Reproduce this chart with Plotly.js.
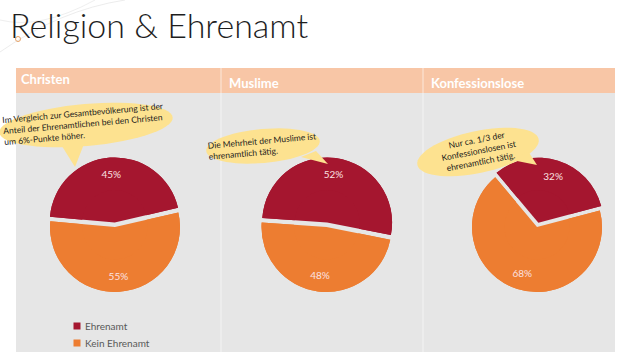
<!DOCTYPE html>
<html>
<head>
<meta charset="utf-8">
<script src="https://cdn.plot.ly/plotly-3.0.1.min.js"></script>
<style>html,body{margin:0;padding:0;background:#fff;}#chart{width:630px;height:364px;}</style>
</head>
<body>
<div id="chart"></div>
<script>
// ---- data ----
const labels = ['Ehrenamt', 'Kein Ehrenamt'];
const groups = ['Christen', 'Muslime', 'Konfessionslose'];
const christen = [45, 55];
const muslime = [52, 48];
const konfessionslose = [32, 68];
const notes = [
  'Im Vergleich zur Gesamtbevölkerung ist der<br>Anteil der Ehrenamtlichen bei den Christen<br>um 6%-Punkte höher.',
  'Die Mehrheit der Muslime ist<br>ehrenamtlich tätig.',
  'Nur ca. 1/3 der<br>Konfessionslosen ist<br>ehrenamtlich tätig.'
];
const title = 'Religion & Ehrenamt';

// ---- helpers ----
const W = 630, H = 364;
const px = x => x / W, py = y => 1 - y / H;
const colors = ['#A5162F', '#ED7D31'];
const FONT = 'Lato, "Open Sans", sans-serif';

function ellipsePath(cx, cy, rx, ry, rot) {
  const a = rot * Math.PI / 180, n = 60;
  let d = '';
  for (let i = 0; i <= n; i++) {
    const t = 2 * Math.PI * i / n;
    const x = cx + rx * Math.cos(t) * Math.cos(a) - ry * Math.sin(t) * Math.sin(a);
    const y = cy + rx * Math.cos(t) * Math.sin(a) + ry * Math.sin(t) * Math.cos(a);
    d += (i === 0 ? 'M ' : ' L ') + px(x).toFixed(5) + ',' + py(y).toFixed(5);
  }
  return d + ' Z';
}
function triPath(p) {
  return 'M ' + p.map(q => px(q[0]).toFixed(5) + ',' + py(q[1]).toFixed(5)).join(' L ') + ' Z';
}

const pieDefs = [
  {vals: christen, cx: 115, rot: -85},
  {vals: muslime, cx: 326.5, rot: -86},
  {vals: konfessionslose, cx: 537, rot: -40}
];
const pull = 0.07, R = 65, cy = 227;
const half = R * (1 + pull);

const traces = [];
pieDefs.forEach((p, i) => {
  const base = {
    type: 'pie',
    labels: labels,
    values: p.vals,
    sort: false,
    direction: 'clockwise',
    rotation: p.rot,
    pull: [pull, 0],
    marker: {colors: colors, line: {width: 0}},
    showlegend: false,
    hoverinfo: 'label+percent',
    domain: {x: [px(p.cx - half), px(p.cx + half)], y: [py(cy + half), py(cy - half)]}
  };
  // full pie (slices)
  traces.push(Object.assign({}, base, {textinfo: 'none'}));
  // ring on top carrying the percentage labels further out
  traces.push(Object.assign({}, base, {
    hole: 0.5,
    texttemplate: '%{value}%',
    textposition: 'inside',
    insidetextorientation: 'horizontal',
    insidetextfont: {family: FONT, size: 10, color: '#FBE2E2'}
  }));
});

const shapes = [
  {type: 'rect', xref: 'paper', yref: 'paper', x0: px(16), x1: px(615), y0: py(352), y1: py(93), fillcolor: '#E6E6E6', line: {width: 0}, layer: 'below'},
  {type: 'rect', xref: 'paper', yref: 'paper', x0: px(16), x1: px(615), y0: py(93), y1: py(68), fillcolor: '#F8C6A6', line: {width: 0}, layer: 'below'},
  {type: 'line', xref: 'paper', yref: 'paper', x0: px(221), x1: px(221), y0: py(352), y1: py(68), line: {color: 'rgba(255,255,255,0.6)', width: 1}, layer: 'below'},
  {type: 'line', xref: 'paper', yref: 'paper', x0: px(423), x1: px(423), y0: py(352), y1: py(68), line: {color: 'rgba(255,255,255,0.6)', width: 1}, layer: 'below'},
  {type: 'circle', xref: 'paper', yref: 'paper', x0: px(15.5), x1: px(20.5), y0: py(41.5), y1: py(36.5), line: {color: '#E8A060', width: 1}, fillcolor: 'rgba(0,0,0,0)', layer: 'below'},
  {type: 'path', xref: 'paper', yref: 'paper', path: 'M ' + px(0) + ',' + py(52) + ' Q ' + px(60) + ',' + py(10) + ' ' + px(125) + ',' + py(0), line: {color: 'rgba(200,200,200,0.35)', width: 1}, layer: 'below'},
  {type: 'path', xref: 'paper', yref: 'paper', path: 'M ' + px(0) + ',' + py(20) + ' Q ' + px(40) + ',' + py(30) + ' ' + px(95) + ',' + py(0), line: {color: 'rgba(200,200,200,0.3)', width: 1}, layer: 'below'}
];

const bubbleColor = '#FDE290';
const bubbles = [
  {cx: 86, cy: 125, rx: 87, ry: 21, rot: -5, tri: [[60, 143], [84, 144], [75, 167]]},
  {cx: 263, cy: 146, rx: 57, ry: 17, rot: -5, tri: [[301, 157], [316, 151], [328, 164]]},
  {cx: 478, cy: 152, rx: 62, ry: 21, rot: -12, tri: [[512, 160], [528, 151], [537, 165]]}
];
bubbles.forEach(b => {
  shapes.push({type: 'path', xref: 'paper', yref: 'paper', path: ellipsePath(b.cx, b.cy, b.rx, b.ry, b.rot), fillcolor: bubbleColor, line: {width: 0}, layer: 'above'});
  shapes.push({type: 'path', xref: 'paper', yref: 'paper', path: triPath(b.tri), fillcolor: bubbleColor, line: {width: 0}, layer: 'above'});
});

// legend (small squares like the reference)
labels.forEach((lab, i) => {
  const yc = 326 + i * 17;
  shapes.push({type: 'rect', xref: 'paper', yref: 'paper', x0: px(73.5), x1: px(80.5), y0: py(yc + 3.5), y1: py(yc - 3.5), fillcolor: colors[i], line: {width: 0}, layer: 'above'});
});

const annotations = [
  {text: title, x: px(8), y: py(25), xref: 'paper', yref: 'paper', xanchor: 'left', yanchor: 'middle', showarrow: false,
   font: {family: FONT, size: 34, color: '#1E1E1E', weight: 300}},
  {text: '<b>' + groups[0] + '</b>', x: px(19), y: py(79), xref: 'paper', yref: 'paper', xanchor: 'left', yanchor: 'middle', showarrow: false, font: {family: FONT, size: 13, color: '#FFFFFF'}},
  {text: '<b>' + groups[1] + '</b>', x: px(227), y: py(83), xref: 'paper', yref: 'paper', xanchor: 'left', yanchor: 'middle', showarrow: false, font: {family: FONT, size: 13, color: '#FFFFFF'}},
  {text: '<b>' + groups[2] + '</b>', x: px(429), y: py(83), xref: 'paper', yref: 'paper', xanchor: 'left', yanchor: 'middle', showarrow: false, font: {family: FONT, size: 13, color: '#FFFFFF'}},
  {text: notes[0], x: px(84), y: py(124), xref: 'paper', yref: 'paper', xanchor: 'center', yanchor: 'middle', align: 'left', textangle: -5, showarrow: false, font: {family: FONT, size: 8.5, color: '#1A1A1A'}},
  {text: notes[1], x: px(262), y: py(146), xref: 'paper', yref: 'paper', xanchor: 'center', yanchor: 'middle', align: 'left', textangle: -5, showarrow: false, font: {family: FONT, size: 8.5, color: '#1A1A1A'}},
  {text: notes[2], x: px(478), y: py(151), xref: 'paper', yref: 'paper', xanchor: 'center', yanchor: 'middle', align: 'center', textangle: -11, showarrow: false, font: {family: FONT, size: 8.5, color: '#1A1A1A'}}
];
labels.forEach((lab, i) => {
  annotations.push({text: lab, x: px(83), y: py(326 + i * 17), xref: 'paper', yref: 'paper', xanchor: 'left', yanchor: 'middle', showarrow: false,
    font: {family: FONT, size: 10, color: '#595959'}});
});

const layout = {
  width: W, height: H,
  margin: {l: 0, r: 0, t: 0, b: 0},
  paper_bgcolor: '#FFFFFF',
  showlegend: false,
  shapes: shapes,
  annotations: annotations
};

Plotly.newPlot('chart', traces, layout, {displayModeBar: false, staticPlot: true});
</script>
</body>
</html>
